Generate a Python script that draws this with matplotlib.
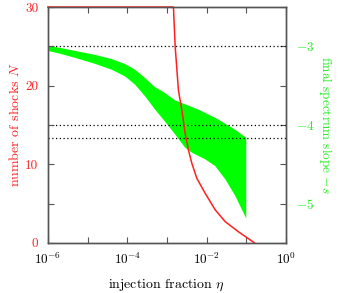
import matplotlib
matplotlib.use("Agg")
import matplotlib.pyplot as plt
import numpy as np

plt.rcParams["font.family"] = "serif"
plt.rcParams["font.serif"] = ["cmr10", "DejaVu Serif"]
plt.rcParams["mathtext.fontset"] = "cm"
plt.rcParams["axes.formatter.use_mathtext"] = True

# number of shocks N vs log10(eta)
n_logeta = [-6.0, -2.836, -2.793, -2.71, -2.624, -2.54, -2.457, -2.371, -2.245,
            -2.035, -1.783, -1.53, -1.194, -0.79]
n_shocks = [30.0, 30.0, 25.0, 19.4, 16.9, 13.9, 11.8, 10.1, 8.2, 6.3, 4.2, 2.7, 1.4, 0.0]

# final spectrum slope band: upper edge vs log10(eta)
up_logeta = [-6.0, -5.654, -5.235, -4.813, -4.391, -4.056, -3.803, -3.551, -3.298,
             -3.088, -2.793, -2.583, -2.162, -1.74, -1.32, -1.0]
s_upper = [-2.994, -3.023, -3.066, -3.108, -3.162, -3.225, -3.297, -3.403, -3.52,
           -3.58, -3.687, -3.729, -3.814, -3.92, -4.047, -4.162]
# lower edge vs log10(eta)
lo_logeta = [-6.0, -5.654, -5.235, -4.813, -4.391, -4.056, -3.803, -3.551, -3.298,
             -3.045, -2.793, -2.54, -2.371, -2.035, -1.783, -1.53, -1.278, -1.0]
s_lower = [-3.057, -3.099, -3.158, -3.222, -3.297, -3.382, -3.487, -3.635, -3.804,
           -3.959, -4.120, -4.289, -4.352, -4.437, -4.522, -4.690, -4.901, -5.19]

# dotted reference slopes
ref_slopes = [-3.0, -4.0, -4.17]

red = "#ff2020"
green = "#00ff00"
green_txt = "#22ee22"
grey = "#555555"

fig = plt.figure(figsize=(3.4, 2.93), dpi=100)
ax = fig.add_axes([0.141, 0.171, 0.700, 0.805])
ax2 = ax.twinx()

# band on the right axis
band_x = 10 ** np.array(up_logeta + lo_logeta[::-1])
band_y = s_upper + s_lower[::-1]
ax2.fill(band_x, band_y, color=green, lw=0)
for v in ref_slopes:
    ax2.axhline(v, color="black", ls=(0, (1, 2)), lw=0.9)
ax2.set_ylim(-5.5, -2.5)
rticks = np.arange(-5.5, -2.49, 0.5)
ax2.set_yticks(rticks)
ax2.set_yticklabels(["" if t % 1 else r"$-%d$" % abs(t) for t in rticks])
ax2.tick_params(axis="y", direction="in", length=4, color=grey, labelcolor=green_txt,
                labelsize=9.5, pad=7)
ax2.set_ylabel(r"final spectrum slope $-s$", color=green_txt, fontsize=9.5,
               rotation=270, labelpad=14)

# red line on the left axis, drawn above the band
ax.set_zorder(ax2.get_zorder() + 1)
ax.patch.set_visible(False)
ax.plot(10 ** np.array(n_logeta), n_shocks, color=red, lw=1.1, clip_on=False)
ax.set_xscale("log")
ax.set_xlim(1e-6, 1)
ax.set_ylim(0, 30)
ax.set_xticks([10.0 ** k for k in range(-6, 1)])
ax.set_xticklabels([r"$10^{%d}$" % k if k % 2 == 0 else "" for k in range(-6, 1)])
ax.xaxis.set_minor_locator(matplotlib.ticker.NullLocator())
ax.set_yticks(range(0, 31, 5))
ax.set_yticklabels([str(t) if t % 10 == 0 else "" for t in range(0, 31, 5)])
ax.tick_params(axis="x", direction="in", length=4, color=grey, top=True, labelsize=9.5, pad=6)
ax.tick_params(axis="y", direction="in", length=4, color=grey, labelcolor=red, labelsize=9.5, pad=7)
ax.set_xlabel(r"injection fraction $\eta$", fontsize=10, labelpad=8)
ax.set_ylabel(r"number of shocks $N$", color=red, fontsize=10, labelpad=2)

for a in (ax, ax2):
    for s in a.spines.values():
        s.set_color(grey)
        s.set_linewidth(1.0)

fig.savefig("out.png", dpi=100)
